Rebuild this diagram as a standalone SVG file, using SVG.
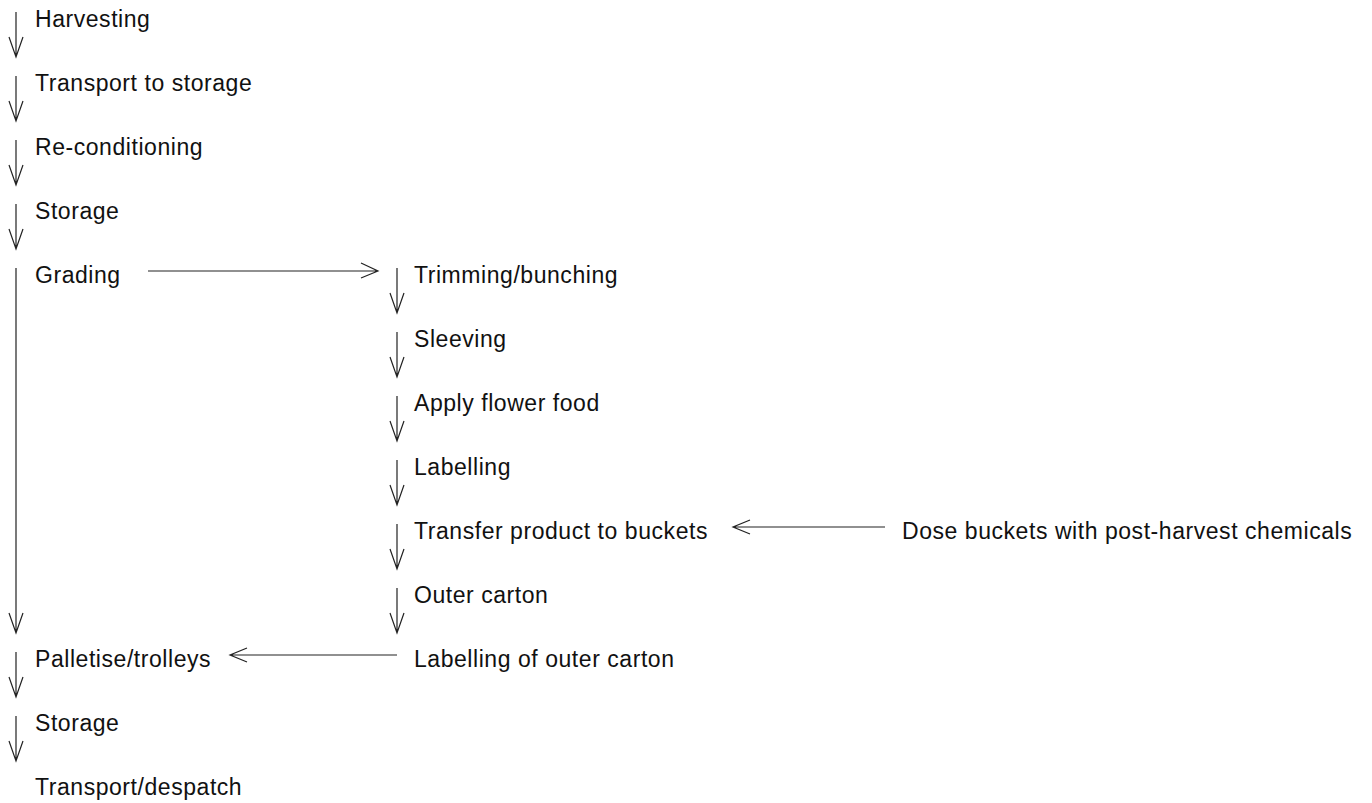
<svg xmlns="http://www.w3.org/2000/svg" width="1372" height="803" viewBox="0 0 1372 803">
<style>
text{font-family:"Liberation Sans",Arial,sans-serif;font-size:23px;letter-spacing:0.55px;fill:#111}
.c line,.c path{stroke:#222;stroke-width:1.2;fill:none}
</style>
<rect width="1372" height="803" fill="#fff"/>
<g class="c" id="connectors">
<path d="M16 12V57M9 37L16 57L23 37"/>
<path d="M16 76V121M9 101L16 121L23 101"/>
<path d="M16 140V185M9 165L16 185L23 165"/>
<path d="M16 204V249M9 229L16 249L23 229"/>
<path d="M16 268V633M9 613L16 633L23 613"/>
<path d="M16 652V697M9 677L16 697L23 677"/>
<path d="M16 716V761M9 741L16 761L23 741"/>
<path d="M397 268V313M390 293L397 313L404 293"/>
<path d="M397 332V377M390 357L397 377L404 357"/>
<path d="M397 396V441M390 421L397 441L404 421"/>
<path d="M397 460V505M390 485L397 505L404 485"/>
<path d="M397 524V569M390 549L397 569L404 549"/>
<path d="M397 588V633M390 613L397 633L404 613"/>
<path d="M148 271H378M361 263L378 271L361 278"/>
<path d="M885 527H733M750 520L733 527L750 534"/>
<path d="M397 655H230M247 648L230 655L247 662"/>
</g>
<g id="n1"><text x="35" y="27">Harvesting</text></g>
<g id="n2"><text x="35" y="91">Transport to storage</text></g>
<g id="n3"><text x="35" y="155">Re-conditioning</text></g>
<g id="n4"><text x="35" y="219">Storage</text></g>
<g id="n5"><text x="35" y="283">Grading</text></g>
<g id="n6"><text x="414" y="283">Trimming/bunching</text></g>
<g id="n7"><text x="414" y="347">Sleeving</text></g>
<g id="n8"><text x="414" y="411">Apply flower food</text></g>
<g id="n9"><text x="414" y="475">Labelling</text></g>
<g id="n10"><text x="414" y="539">Transfer product to buckets</text></g>
<g id="n11"><text x="902" y="539">Dose buckets with post-harvest chemicals</text></g>
<g id="n12"><text x="414" y="603">Outer carton</text></g>
<g id="n13"><text x="414" y="667">Labelling of outer carton</text></g>
<g id="n14"><text x="35" y="667">Palletise/trolleys</text></g>
<g id="n15"><text x="35" y="731">Storage</text></g>
<g id="n16"><text x="35" y="795">Transport/despatch</text></g>
</svg>
